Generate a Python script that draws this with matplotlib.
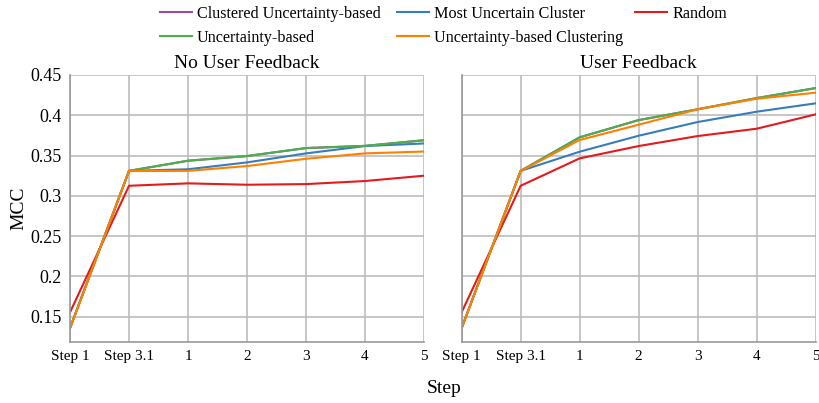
import matplotlib
matplotlib.use("Agg")
import matplotlib.pyplot as plt
from matplotlib.ticker import FuncFormatter

plt.rcParams['font.family'] = ['Liberation Serif', 'DejaVu Serif']

steps = ['Step 1', 'Step 3.1', '1', '2', '3', '4', '5']

# No User Feedback
nf_clustered = [0.136, 0.331, 0.3436, 0.3494, 0.3593, 0.362, 0.369]
nf_most = [0.136, 0.331, 0.333, 0.3415, 0.3527, 0.3618, 0.365]
nf_random = [0.1555, 0.3125, 0.3155, 0.3138, 0.3146, 0.3184, 0.325]
nf_unc = [0.136, 0.331, 0.3436, 0.3494, 0.3593, 0.362, 0.369]
nf_unc_clust = [0.1356, 0.3308, 0.331, 0.337, 0.346, 0.3527, 0.355]

# User Feedback
uf_clustered = [0.136, 0.331, 0.3726, 0.394, 0.4074, 0.4213, 0.4337]
uf_most = [0.136, 0.331, 0.3548, 0.3746, 0.3916, 0.4044, 0.4148]
uf_random = [0.1555, 0.3125, 0.3465, 0.3618, 0.3742, 0.3833, 0.4011]
uf_unc = [0.136, 0.331, 0.3726, 0.394, 0.4074, 0.4213, 0.4337]
uf_unc_clust = [0.1356, 0.3308, 0.3693, 0.3883, 0.4074, 0.4205, 0.428]

names = ['Clustered Uncertainty-based', 'Most Uncertain Cluster', 'Random',
         'Uncertainty-based', 'Uncertainty-based Clustering']
colors = ['#984ea3', '#377eb8', '#e41a1c', '#4daf4a', '#ff7f00']

panels = [
    ('No User Feedback', [nf_clustered, nf_most, nf_random, nf_unc, nf_unc_clust]),
    ('User Feedback', [uf_clustered, uf_most, uf_random, uf_unc, uf_unc_clust]),
]

fig = plt.figure(figsize=(8.2, 4.03), dpi=100)
ax_left = fig.add_axes([0.0854, 0.152, 0.4317, 0.662])
ax_right = fig.add_axes([0.563, 0.152, 0.4317, 0.662])

x = list(range(len(steps)))
for ax, (title, series) in zip([ax_left, ax_right], panels):
    for vals, name, c in zip(series, names, colors):
        ax.plot(x, vals, color=c, lw=1.5, label=name)
    ax.set_xlim(0, 6)
    ax.set_ylim(0.119, 0.45)
    ax.set_yticks([0.15, 0.2, 0.25, 0.3, 0.35, 0.4, 0.45])
    ax.set_xticks(x)
    ax.set_xticklabels(steps)
    ax.grid(True, color='#bcbcbc', lw=1.2)
    ax.set_axisbelow(True)
    for s in ['top', 'right']:
        ax.spines[s].set_visible(False)
    for s in ['left', 'bottom']:
        ax.spines[s].set_color('#999999')
        ax.spines[s].set_linewidth(1.2)
    ax.tick_params(length=0, labelsize=11, pad=6)
    ax.set_title(title, fontsize=14, pad=5)

ax_left.yaxis.set_major_formatter(FuncFormatter(lambda v, p: '%g' % round(v, 2)))
ax_left.tick_params(axis='y', labelsize=13)
ax_right.set_yticklabels([])
ax_left.set_ylabel('MCC', fontsize=14)
ax_left.yaxis.set_label_coords(-0.12, 0.5)

fig.text(0.542, 0.035, 'Step', fontsize=14, ha='center', va='center')

# legend laid out row by row in equal-width columns
handles, labels = ax_left.get_legend_handles_labels()
col_x = [160 / 820, 397 / 820, 635 / 820]
for i, cx in enumerate(col_x):
    fig.legend(handles[i::3], labels[i::3], loc='upper left',
               bbox_to_anchor=(cx, 0.985), frameon=False, fontsize=11.6,
               handlelength=2.0, handletextpad=0.3, borderpad=0.0,
               borderaxespad=0.0, labelspacing=0.5)

fig.savefig('out.png', dpi=100)
